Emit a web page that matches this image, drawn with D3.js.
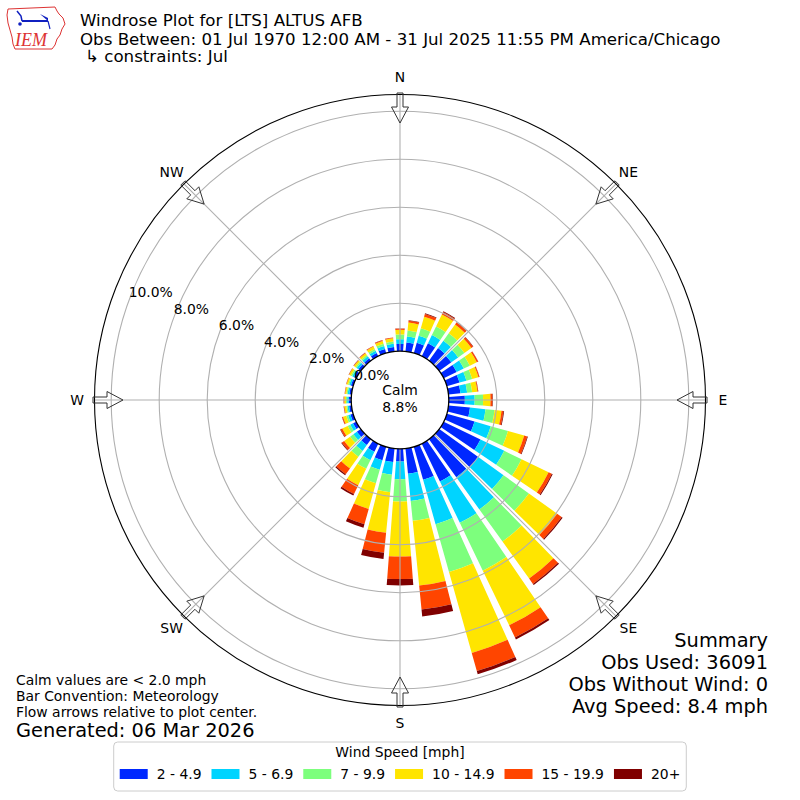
<!DOCTYPE html>
<html><head><meta charset="utf-8">
<script src="https://cdn.jsdelivr.net/npm/d3@7"></script>
<style>
body{margin:0;background:#fff}
svg{display:block}
text{font-family:"DejaVu Sans",sans-serif;fill:#000}
</style>
</head><body>
<svg id="c" width="800" height="800"></svg>
<script>
// ---------------- data ----------------
const directions = d3.range(0, 360, 10);
const speedBins = ["2 - 4.9", "5 - 6.9", "7 - 9.9", "10 - 14.9", "15 - 19.9", "20+"];
const binColors = ["#0028ff", "#00d4ff", "#7dff7d", "#ffe500", "#ff4500", "#800000"];
// percent of observations per direction (0,10,...,350) for each speed bin
const s2to5   = [0.30,0.38,0.45,0.60,0.65,0.62,0.60,0.55,0.50,0.67,0.90,1.20,1.70,2.00,1.95,1.75,1.43,1.06,0.53,0.57,0.58,0.37,0.30,0.20,0.15,0.12,0.10,0.10,0.09,0.10,0.11,0.12,0.13,0.15,0.18,0.19];
const s5to7   = [0.20,0.25,0.30,0.38,0.38,0.35,0.33,0.30,0.28,0.41,0.65,0.70,1.10,1.30,1.65,1.91,1.92,1.14,0.74,0.53,0.41,0.39,0.30,0.18,0.13,0.10,0.07,0.07,0.07,0.07,0.08,0.09,0.10,0.11,0.13,0.13];
const s7to10  = [0.20,0.25,0.33,0.40,0.38,0.32,0.28,0.25,0.21,0.35,0.38,0.75,0.80,1.30,1.65,2.21,2.07,0.83,0.93,0.73,0.59,0.40,0.30,0.17,0.12,0.08,0.05,0.05,0.05,0.05,0.06,0.06,0.07,0.08,0.10,0.10];
const s10to15 = [0.19,0.33,0.50,0.55,0.45,0.36,0.32,0.27,0.22,0.31,0.29,0.70,1.25,1.45,1.90,2.53,3.50,2.71,2.29,1.70,1.11,0.76,0.60,0.30,0.25,0.14,0.08,0.07,0.06,0.07,0.08,0.08,0.09,0.11,0.12,0.13];
const s15to20 = [0.05,0.08,0.12,0.12,0.10,0.08,0.06,0.04,0.03,0.08,0.08,0.13,0.15,0.23,0.27,0.56,0.78,1.00,0.94,0.84,0.66,0.41,0.30,0.12,0.08,0.04,0.02,0.02,0.015,0.015,0.02,0.02,0.025,0.025,0.035,0.035];
const s20plus = [0.01,0.02,0.03,0.03,0.02,0.02,0.01,0.01,0.01,0.02,0.03,0.03,0.04,0.05,0.06,0.09,0.14,0.29,0.27,0.26,0.15,0.07,0.05,0.03,0.02,0.01,0.01,0.01,0.005,0.005,0.005,0.01,0.005,0.005,0.005,0.005];
const ringTicks = [0, 2, 4, 6, 8, 10];
const compassLabels = ["N", "NE", "E", "SE", "S", "SW", "W", "NW"];
const compassAngles = [0, 45, 90, 135, 180, 225, 270, 315];
const calmPct = "8.8%";
const titleLines = ["Windrose Plot for [LTS] ALTUS AFB",
  "Obs Between: 01 Jul 1970 12:00 AM - 31 Jul 2025 11:55 PM America/Chicago",
  "\u21B3 constraints: Jul"];
const summaryLines = ["Summary", "Obs Used: 36091", "Obs Without Wind: 0", "Avg Speed: 8.4 mph"];
const noteLines = ["Calm values are < 2.0 mph", "Bar Convention: Meteorology", "Flow arrows relative to plot center."];
const generatedText = "Generated: 06 Mar 2026";
const legendTitle = "Wind Speed [mph]";

// ---------------- drawing ----------------
const svg = d3.select("#c");
svg.append("rect").attr("width", 800).attr("height", 800).attr("fill", "#fff");
const cx = 400, cy = 400, R_OUT = 305.5;
const r = d3.scaleLinear().domain([0, 10]).range([48.8, 288.8]);
const ang = d3.scaleLinear().domain([0, 360]).range([0, 2 * Math.PI]);

// logo
const logo = svg.append("g");
logo.append("path")
  .attr("d", "M8,9 L55,7 L57,11 L59,14 L63,18 L65,24 L62,29 L60,35 L57,39 L55,45 L52,49 L15,49 L13,44 L12,37 L10,30 L8,23 L7,15 Z")
  .attr("fill", "none").attr("stroke", "#d33").attr("stroke-width", 1);
logo.append("line").attr("x1", 22).attr("y1", 21).attr("x2", 48).attr("y2", 21).attr("stroke", "#1020c0").attr("stroke-width", 2);
logo.append("path").attr("d", "M17,11 L21,16 L22,21").attr("fill", "none").attr("stroke", "#1020c0").attr("stroke-width", 1.5);
logo.append("path").attr("d", "M40,14 L48,18 L48,21 Z").attr("fill", "#1020c0");
logo.append("circle").attr("cx", 20).attr("cy", 24).attr("r", 1.8).attr("fill", "#1020c0");
logo.append("line").attr("x1", 48).attr("y1", 21).attr("x2", 50).attr("y2", 29).attr("stroke", "#1020c0").attr("stroke-width", 1.2);
logo.append("text").attr("x", 15).attr("y", 46).text("IEM")
  .style("font-family", "'Liberation Serif',serif").style("font-style", "italic")
  .style("font-size", "18px").style("fill", "#d33");

// titles
svg.append("text").attr("x", 80).attr("y", 26).style("font-size", "16.67px").text(titleLines[0]);
svg.append("text").attr("x", 80).attr("y", 44.5).style("font-size", "16.67px").text(titleLines[1]);
svg.append("text").attr("x", 85).attr("y", 62).style("font-size", "16.67px").text(titleLines[2]);

const g = svg.append("g").attr("transform", `translate(${cx},${cy})`);

// bars
const seriesList = [s2to5, s5to7, s7to10, s10to15, s15to20, s20plus];
const rows = directions.map((d, i) => {
  const o = { dir: d };
  speedBins.forEach((b, j) => o[b] = seriesList[j][i]);
  return o;
});
const stacked = d3.stack().keys(speedBins)(rows);
const half = 4.3;
const arc = d3.arc().padAngle(0.0125).padRadius(100);
stacked.forEach((layer, j) => {
  g.append("g").selectAll("path").data(layer).join("path")
    .attr("d", d => arc({
      innerRadius: r(d[0]), outerRadius: r(d[1]),
      startAngle: ang(d.data.dir - half), endAngle: ang(d.data.dir + half)
    }))
    .attr("fill", binColors[j]);
});

// grid (above bars)
g.append("g").selectAll("circle").data(ringTicks.slice(1)).join("circle")
  .attr("r", d => r(d)).attr("fill", "none").attr("stroke", "#b0b0b0").attr("stroke-width", 1.1);
g.append("g").selectAll("line").data(compassAngles).join("line")
  .attr("x1", 0).attr("y1", 0)
  .attr("x2", d => R_OUT * Math.sin(ang(d))).attr("y2", d => -R_OUT * Math.cos(ang(d)))
  .attr("stroke", "#b0b0b0").attr("stroke-width", 1.1);

// outer circle
g.append("circle").attr("r", R_OUT).attr("fill", "none").attr("stroke", "#000").attr("stroke-width", 1.1);

// flow arrows
function arrowPath(deg) {
  const a = ang(deg), ux = Math.sin(a), uy = -Math.cos(a), vx = Math.cos(a), vy = Math.sin(a);
  const P = (rr, w) => [rr * ux + w * vx, rr * uy + w * vy];
  const pts = [P(307, -3), P(307, 3), P(293, 3), P(293, 8.5), P(277, 0), P(293, -8.5), P(293, -3)];
  return "M" + pts.map(p => p[0].toFixed(2) + "," + p[1].toFixed(2)).join("L") + "Z";
}
g.append("g").selectAll("path").data(compassAngles).join("path")
  .attr("d", d => arrowPath(d)).attr("fill", "none").attr("stroke", "#333").attr("stroke-width", 1);

// calm circle
g.append("circle").attr("r", r(0)).attr("fill", "#fff").attr("stroke", "#000").attr("stroke-width", 1.3);
g.append("text").attr("x", 0).attr("y", -5).attr("text-anchor", "middle").style("font-size", "13.9px").text("Calm");
g.append("text").attr("x", 0).attr("y", 12).attr("text-anchor", "middle").style("font-size", "13.9px").text(calmPct);

// ring labels
const la = 20 * Math.PI / 180;
g.append("g").selectAll("text").data(ringTicks).join("text")
  .attr("x", d => -r(d) * Math.cos(la))
  .attr("y", d => -r(d) * Math.sin(la) - 3.8)
  .style("font-size", "13.9px")
  .text(d => d3.format(".1f")(d) + "%");

// compass labels
g.append("g").selectAll("text").data(compassAngles).join("text")
  .attr("x", d => 323 * Math.sin(ang(d)))
  .attr("y", d => -323 * Math.cos(ang(d)))
  .attr("text-anchor", "middle").attr("dominant-baseline", "central")
  .style("font-size", "13.9px")
  .text((d, i) => compassLabels[i]);

// summary
summaryLines.forEach((t, i) => {
  svg.append("text").attr("x", 768).attr("y", 647 + 22 * i).attr("text-anchor", "end")
    .style("font-size", "19.4px").text(t);
});
// notes
noteLines.forEach((t, i) => {
  svg.append("text").attr("x", 16).attr("y", 685 + 16 * i).style("font-size", "13.9px").text(t);
});
svg.append("text").attr("x", 16).attr("y", 737).style("font-size", "19.4px").text(generatedText);

// legend
const lg = svg.append("g");
const box = lg.append("rect").attr("y", 742).attr("height", 49).attr("rx", 4)
  .attr("fill", "#fff").attr("stroke", "#cccccc").attr("stroke-width", 1);
const items = lg.append("g");
let x = 0;
speedBins.forEach((b, j) => {
  items.append("rect").attr("x", x).attr("y", 769).attr("width", 28).attr("height", 10).attr("fill", binColors[j]);
  const t = items.append("text").attr("x", x + 37).attr("y", 779).style("font-size", "13.9px").text(b);
  const w = t.node().getComputedTextLength();
  x += 37 + w + (j < speedBins.length - 1 ? 10 : 0);
});
const totalW = x;
const x0 = 400 - totalW / 2;
items.attr("transform", `translate(${x0},0)`);
box.attr("x", x0 - 6).attr("width", totalW + 12);
lg.append("text").attr("x", 400).attr("y", 757).attr("text-anchor", "middle").style("font-size", "13.9px").text(legendTitle);
</script>
</body></html>
